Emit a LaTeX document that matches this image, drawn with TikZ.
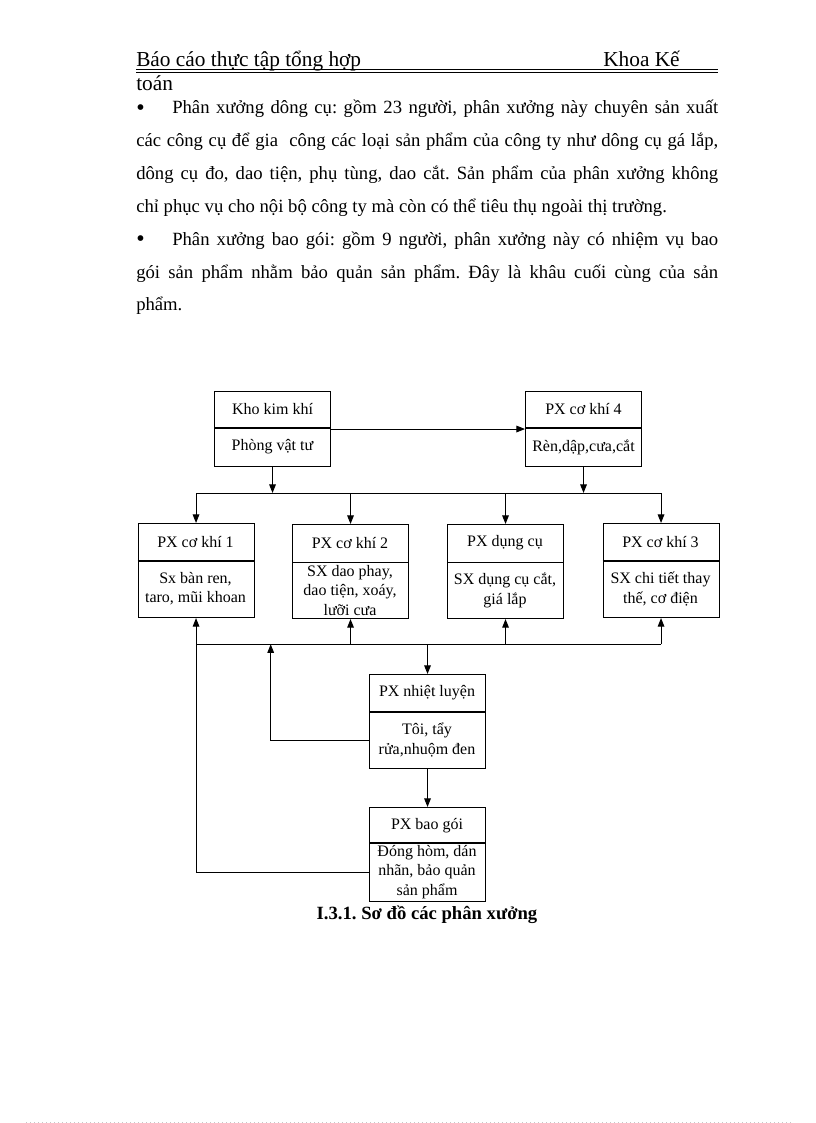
\documentclass[tikz,border=0pt]{standalone}
\usepackage{fontspec}
\setmainfont{Liberation Serif}
\usetikzlibrary{arrows.meta}
\frenchspacing
\begin{document}
\begin{tikzpicture}[x=0.75pt,y=-0.75pt,
  box/.style={draw=black, line width=0.8pt, minimum width=87pt, inner sep=0pt, anchor=north west},
  topbox/.style={box, minimum height=56.25pt},
  midbox/.style={box, minimum height=70.5pt},
  lbl/.style={font=\fontsize{12pt}{14.4pt}\selectfont, align=center, inner sep=0pt},
  conn/.style={line width=0.75pt},
  arr/.style={conn, -{Triangle[length=6.5pt,width=5pt]}},
  divline/.style={line width=0.8pt},
  bodytxt/.style={font=\fontsize{14pt}{16pt}\selectfont, anchor=base west, inner sep=0pt},
  bullettxt/.style={font=\fontsize{18pt}{20pt}\selectfont, anchor=base west, inner sep=0pt},
  headtxt/.style={font=\fontsize{16pt}{18pt}\selectfont, anchor=base west, inner sep=0pt},
  captxt/.style={font=\fontsize{14pt}{16pt}\selectfont\bfseries, anchor=base, inner sep=0pt}
]
\fill[white] (0,0) rectangle (816,1123);
\useasboundingbox (0,0) rectangle (816,1123);

% ---------- header ----------
\node[headtxt] (h1) at (136,67) {Báo cáo thực tập tổng hợp};
\node[headtxt] (h2) at (603,67) {Khoa Kế};
\node[headtxt] (h3) at (136,91) {toán};
\draw[line width=1pt] (136,69.6) -- (718,69.6);
\draw[line width=0.5pt] (136,72.3) -- (718,72.3);

% ---------- body text ----------
\node[bullettxt] (b1) at (136,116) {•};
\node[bodytxt] (t1) at (172,114) {\makebox[409.5pt][s]{Phân xưởng dông cụ: gồm 23 người, phân xưởng này chuyên sản xuất}};
\node[bodytxt] (t2) at (136,147) {\makebox[436.5pt][s]{các công cụ để gia\ \ công các loại sản phẩm của công ty như dông cụ gá lắp,}};
\node[bodytxt] (t3) at (136,180) {\makebox[436.5pt][s]{dông cụ đo, dao tiện, phụ tùng, dao cắt. Sản phẩm của phân xưởng không}};
\node[bodytxt] (t4) at (136,212.5) {chỉ phục vụ cho nội bộ công ty mà còn có thể tiêu thụ ngoài thị trường.};
\node[bullettxt] (b2) at (136,247) {•};
\node[bodytxt] (t5) at (172,245) {\makebox[409.5pt][s]{Phân xưởng bao gói: gồm 9 người, phân xưởng này có nhiệm vụ bao}};
\node[bodytxt] (t6) at (136,278) {\makebox[436.5pt][s]{gói sản phẩm nhằm bảo quản sản phẩm. Đây là khâu cuối cùng của sản}};
\node[bodytxt] (t7) at (136,310) {phẩm.};

% ---------- boxes ----------
\node[topbox] (kho) at (214,391) {};
\node[topbox] (px4) at (525,391) {};
\node[midbox] (px1) at (137.5,523) {};
\node[midbox] (px2) at (292,524) {};
\node[midbox] (pxdc) at (447,524) {};
\node[midbox] (px3) at (602.5,523) {};
\node[midbox] (nl) at (369,674) {};
\node[midbox] (bg) at (369,807) {};

% dividers
\draw[divline] ([yshift=-27.75pt]kho.north west) -- ([yshift=-27.75pt]kho.north east);
\draw[divline] ([yshift=-27.75pt]px4.north west) -- ([yshift=-27.75pt]px4.north east);
\draw[divline] ([yshift=-28.5pt]px1.north west) -- ([yshift=-28.5pt]px1.north east);
\draw[divline] ([yshift=-28.9pt]px2.north west) -- ([yshift=-28.9pt]px2.north east);
\draw[divline] ([yshift=-28.9pt]pxdc.north west) -- ([yshift=-28.9pt]pxdc.north east);
\draw[divline] ([yshift=-28.5pt]px3.north west) -- ([yshift=-28.5pt]px3.north east);
\draw[divline] ([yshift=-28.5pt]nl.north west) -- ([yshift=-28.5pt]nl.north east);
\draw[divline] ([yshift=-27pt]bg.north west) -- ([yshift=-27pt]bg.north east);

% labels
\node[lbl] (kho-t) at (272.5,409.5) {Kho kim khí};
\node[lbl] (kho-b) at (272.5,447) {Phòng vật tư};
\node[lbl] (px4-t) at (583.5,409.5) {PX cơ khí 4};
\node[lbl] (px4-b) at (583.5,447) {Rèn,dập,cưa,cắt};
\node[lbl] (px1-t) at (195.5,542) {PX cơ khí 1};
\node[lbl] (px1-b) at (195.5,589) {Sx bàn ren,\\taro, mũi khoan};
\node[lbl] (px2-t) at (350,543) {PX cơ khí 2};
\node[lbl] (px2-b) at (350,590.5) {SX dao phay,\\dao tiện, xoáy,\\lưỡi cưa};
\node[lbl] (pxdc-t) at (505,543) {PX dụng cụ};
\node[lbl] (pxdc-b) at (505,590.5) {SX dụng cụ cắt,\\giá lắp};
\node[lbl] (px3-t) at (660.5,542) {PX cơ khí 3};
\node[lbl] (px3-b) at (660.5,589) {SX chi tiết thay\\thế, cơ điện};
\node[lbl] (nl-t) at (427,693) {PX nhiệt luyện};
\node[lbl] (nl-b) at (427,740) {Tôi, tẩy\\rửa,nhuộm đen};
\node[lbl] (bg-t) at (427,825.5) {PX bao gói};
\node[lbl] (bg-b) at (427,872) {Đóng hòm, dán\\nhãn, bảo quản\\sản phẩm};

% caption
\node[captxt] (cap) at (427,919) {I.3.1. Sơ đồ các phân xưởng};

% ---------- connectors ----------
\coordinate (bus1) at (195.5,493);
\coordinate (bus2) at (195.5,644.3);
\coordinate (fb) at (270.7,644.3);

\draw[arr] (kho) -- (px4);
\draw[arr] (kho.south) -- (kho.south |- bus1);
\draw[arr] (px4.south) -- (px4.south |- bus1);
\draw[conn] (px1.north |- bus1) -- (px3.north |- bus1);
\draw[arr] (px1.north |- bus1) -- (px1.north);
\draw[arr] (px2.north |- bus1) -- (px2.north);
\draw[arr] (pxdc.north |- bus1) -- (pxdc.north);
\draw[arr] (px3.north |- bus1) -- (px3.north);

\draw[conn] (px1.south |- bus2) -- (px3.south |- bus2);
\draw[arr] (px2.south |- bus2) -- (px2.south);
\draw[arr] (pxdc.south |- bus2) -- (pxdc.south);
\draw[arr] (px3.south |- bus2) -- (px3.south);
\draw[arr] (nl.north |- bus2) -- (nl.north);
\draw[arr] ([yshift=-14.25pt]nl.west) -| (fb);
\draw[arr] (nl) -- (bg);
\draw[arr] ([yshift=-13.5pt]bg.west) -| (px1.south);

% page foot dotted rule
\draw[gray!45, line width=0.75pt, dash pattern=on 0.75pt off 2.25pt] (26,1122) -- (791,1122);
\end{tikzpicture}
\end{document}
